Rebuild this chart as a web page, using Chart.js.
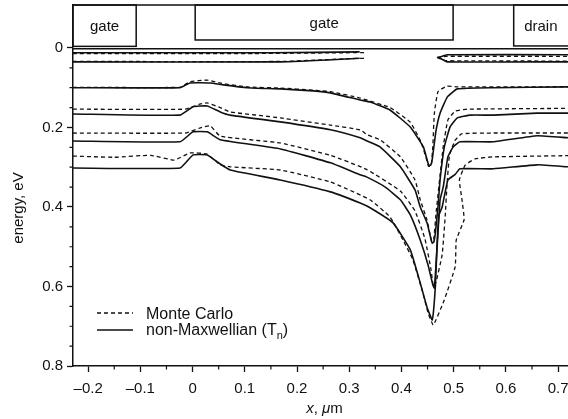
<!DOCTYPE html>
<html>
<head>
<meta charset="utf-8">
<title>energy vs x</title>
<script src="https://cdn.jsdelivr.net/npm/chart.js@4.4.1/dist/chart.umd.min.js"></script>
<style>
  html, body { margin: 0; padding: 0; background: #fff; }
  canvas { display: block; }
</style>
</head>
<body>
<canvas id="energyChart" width="568" height="419"></canvas>
<script>
// axis ranges (x in um, energy in eV, energy grows downwards)
const X_MIN = -0.229, X_MAX = 0.719;
const Y_MIN = -0.108, Y_MAX = 0.8;

// device regions drawn above the surface: [from, to] in um, names
const regionNames = ['gate', 'gate', 'drain'];
const regionSpans = [[-0.229, -0.108], [0.005, 0.499], [0.615, 0.76]];
const regionBottoms = [-0.004, -0.020, -0.005];

// contours, [x, energy]; null energy = gap
const nmTopA = [[-0.229, 0.012], [0.15, 0.012], [0.32, 0.010], [0.40, null], [0.471, 0.024], [0.488, 0.017], [0.719, 0.017]];
const mcTopA = [[-0.229, 0.014], [0.12, 0.014], [0.30, 0.012], [0.33, 0.012], [0.40, null], [0.468, 0.024], [0.485, 0.021], [0.719, 0.021]];
const nmTopB = [[-0.229, 0.035], [0.17, 0.035], [0.32, 0.026], [0.40, null], [0.471, 0.024], [0.488, 0.035], [0.719, 0.035]];
const mcTopB = [[-0.229, 0.034], [0.17, 0.034], [0.30, 0.027], [0.33, 0.026], [0.40, null], [0.468, 0.024], [0.485, 0.032], [0.719, 0.033]];

const nm1 = [[-0.229, 0.100], [-0.024, 0.100], [-0.005, 0.088], [0.034, 0.088], [0.059, 0.093], [0.105, 0.100], [0.168, 0.103],
  [0.231, 0.108], [0.264, 0.113], [0.321, 0.131], [0.340, 0.136], [0.378, 0.156], [0.417, 0.199], [0.442, 0.249],
  [0.452, 0.294], [0.456, 0.295], [0.459, 0.280], [0.466, 0.210], [0.474, 0.164], [0.488, 0.123], [0.507, 0.103],
  [0.576, 0.100], [0.719, 0.098]];
const mc1 = [[-0.229, 0.099], [-0.024, 0.099], [-0.005, 0.085], [0.028, 0.081], [0.059, 0.090], [0.105, 0.098], [0.168, 0.101],
  [0.231, 0.106], [0.264, 0.110], [0.321, 0.126], [0.378, 0.150], [0.417, 0.187], [0.437, 0.235], [0.447, 0.275],
  [0.452, 0.298], [0.457, 0.296], [0.460, 0.250], [0.463, 0.165], [0.470, 0.110], [0.487, 0.096], [0.507, 0.098],
  [0.719, 0.098]];

const nm2 = [[-0.229, 0.166], [-0.024, 0.169], [0.001, 0.148], [0.028, 0.146], [0.053, 0.161], [0.072, 0.169], [0.168, 0.186],
  [0.264, 0.206], [0.321, 0.226], [0.334, 0.234], [0.359, 0.249], [0.398, 0.299], [0.426, 0.357], [0.436, 0.400],
  [0.449, 0.440], [0.457, 0.483], [0.459, 0.491], [0.462, 0.488], [0.465, 0.465], [0.470, 0.400], [0.474, 0.332],
  [0.482, 0.250], [0.493, 0.199], [0.507, 0.176], [0.532, 0.169], [0.576, 0.169], [0.660, 0.164], [0.719, 0.164]];
const mc2 = [[-0.229, 0.154], [-0.014, 0.154], [0.015, 0.141], [0.028, 0.138], [0.053, 0.150], [0.072, 0.161], [0.168, 0.176],
  [0.264, 0.194], [0.321, 0.206], [0.334, 0.218], [0.359, 0.231], [0.398, 0.274], [0.426, 0.332], [0.436, 0.382],
  [0.449, 0.433], [0.455, 0.470], [0.458, 0.487], [0.462, 0.480], [0.466, 0.420], [0.474, 0.320], [0.480, 0.249],
  [0.489, 0.181], [0.503, 0.159], [0.526, 0.154], [0.719, 0.152]];

const nm3 = [[-0.229, 0.234], [-0.024, 0.236], [0.001, 0.211], [0.028, 0.211], [0.053, 0.231], [0.168, 0.254], [0.264, 0.289],
  [0.321, 0.319], [0.334, 0.325], [0.369, 0.350], [0.398, 0.382], [0.417, 0.420], [0.436, 0.483], [0.451, 0.546],
  [0.460, 0.595], [0.463, 0.604], [0.466, 0.550], [0.470, 0.465], [0.474, 0.382], [0.480, 0.350], [0.489, 0.274],
  [0.499, 0.249], [0.512, 0.236], [0.576, 0.236], [0.660, 0.221], [0.719, 0.226]];
const mc3 = [[-0.229, 0.214], [-0.014, 0.214], [0.015, 0.201], [0.034, 0.196], [0.053, 0.222], [0.168, 0.239], [0.264, 0.270],
  [0.334, 0.306], [0.398, 0.360], [0.426, 0.410], [0.445, 0.480], [0.457, 0.560], [0.461, 0.600], [0.466, 0.590],
  [0.478, 0.520], [0.484, 0.420], [0.487, 0.350], [0.492, 0.270], [0.503, 0.232], [0.515, 0.216], [0.576, 0.214],
  [0.719, 0.214]];

const nm4 = [[-0.229, 0.302], [-0.024, 0.302], [0.001, 0.269], [0.028, 0.269], [0.053, 0.292], [0.072, 0.307], [0.168, 0.332],
  [0.264, 0.362], [0.321, 0.390], [0.340, 0.402], [0.384, 0.440], [0.417, 0.508], [0.436, 0.591], [0.449, 0.652],
  [0.459, 0.684], [0.465, 0.600], [0.468, 0.500], [0.472, 0.420], [0.478, 0.400], [0.489, 0.332], [0.503, 0.318],
  [0.512, 0.304], [0.576, 0.304], [0.660, 0.294], [0.719, 0.299]];
const mc4 = [[-0.229, 0.272], [-0.150, 0.275], [-0.080, 0.270], [-0.035, 0.282], [-0.005, 0.264], [0.028, 0.267], [0.053, 0.294],
  [0.072, 0.299], [0.168, 0.307], [0.264, 0.337], [0.340, 0.382], [0.378, 0.425], [0.403, 0.483], [0.422, 0.533],
  [0.441, 0.616], [0.451, 0.666], [0.461, 0.697], [0.482, 0.634], [0.503, 0.550], [0.505, 0.483], [0.520, 0.432],
  [0.516, 0.382], [0.511, 0.332], [0.522, 0.295], [0.541, 0.279], [0.576, 0.274], [0.719, 0.271]];

const monteCarlo = [mcTopA, mcTopB, mc1, mc2, mc3, mc4];
const nonMaxwellian = [nmTopA, nmTopB, nm1, nm2, nm3, nm4];

const INK = '#111';
const FONT = '"Liberation Sans", Arial, Helvetica, sans-serif';
Chart.defaults.font.family = FONT;
Chart.defaults.font.size = 15;
Chart.defaults.color = INK;

function toPoints(arr) {
  return arr.map(p => ({ x: p[0], y: p[1] }));
}

const datasets = [];
monteCarlo.forEach(c => datasets.push({
  data: toPoints(c), borderColor: INK, borderWidth: 1.3, borderDash: [4, 3]
}));
nonMaxwellian.forEach(c => datasets.push({
  data: toPoints(c), borderColor: INK, borderWidth: 1.6
}));

function fmtTick(v) {
  if (Math.abs(v) < 1e-9) return '0';
  return (v < 0 ? '\u2013' : '') + Math.abs(v).toFixed(1);
}

// device outline, minor ticks, axis titles and legend
const sketch = {
  id: 'sketch',
  afterDraw(chart) {
    const { ctx, chartArea: a, scales: { x, y } } = chart;
    ctx.save();
    ctx.strokeStyle = INK;
    ctx.fillStyle = INK;
    ctx.lineWidth = 1.5;

    // top edge and surface line
    ctx.beginPath();
    ctx.moveTo(a.left, a.top); ctx.lineTo(a.right, a.top);
    const ySurf = y.getPixelForValue(0.002);
    ctx.moveTo(a.left, ySurf); ctx.lineTo(a.right, ySurf);
    ctx.stroke();

    // gate / drain boxes
    ctx.font = '15px ' + FONT;
    ctx.textAlign = 'center';
    ctx.textBaseline = 'middle';
    regionSpans.forEach((r, i) => {
      const l = x.getPixelForValue(r[0]);
      const rr = x.getPixelForValue(r[1]);
      const b = y.getPixelForValue(regionBottoms[i]);
      ctx.strokeRect(l, a.top, rr - l, b - a.top);
      const cx = (l + Math.min(rr, chart.width)) / 2;
      ctx.fillText(regionNames[i], cx, (a.top + b) / 2 + 1);
    });

    // minor ticks every 0.05
    ctx.lineWidth = 1.2;
    ctx.beginPath();
    for (let i = -4; i <= 14; i++) {
      if (i % 2 === 0) continue;
      const px = x.getPixelForValue(i * 0.05);
      ctx.moveTo(px, a.bottom); ctx.lineTo(px, a.bottom + 3.5);
    }
    for (let i = 1; i < 16; i++) {
      if (i % 4 === 0) continue;
      const py = y.getPixelForValue(i * 0.05);
      ctx.moveTo(a.left, py); ctx.lineTo(a.left - 3.5, py);
    }
    ctx.stroke();

    // y title
    ctx.save();
    ctx.translate(19, 208);
    ctx.rotate(-Math.PI / 2);
    ctx.font = '15px ' + FONT;
    ctx.fillText('energy, eV', 0, 0);
    ctx.restore();

    // x title with italic x and mu
    const parts = [['x', 'italic '], [', ', ''], ['\u03bc', 'italic '], ['m', '']];
    let total = 0;
    parts.forEach(p => { ctx.font = p[1] + '15px ' + FONT; total += ctx.measureText(p[0]).width; });
    let tx = (a.left + a.right) / 2 + 4 - total / 2;
    ctx.textAlign = 'left';
    parts.forEach(p => {
      ctx.font = p[1] + '15px ' + FONT;
      ctx.fillText(p[0], tx, 409);
      tx += ctx.measureText(p[0]).width;
    });

    // legend
    const lx = a.left + 24;
    ctx.lineWidth = 1.3;
    ctx.setLineDash([4, 3]);
    ctx.beginPath(); ctx.moveTo(lx, 313); ctx.lineTo(lx + 36, 313); ctx.stroke();
    ctx.setLineDash([]);
    ctx.lineWidth = 1.6;
    ctx.beginPath(); ctx.moveTo(lx, 330); ctx.lineTo(lx + 36, 330); ctx.stroke();
    ctx.font = '16px ' + FONT;
    ctx.textBaseline = 'alphabetic';
    const tx0 = a.left + 73;
    ctx.fillText('Monte Carlo', tx0, 319);
    const s1 = 'non-Maxwellian (T';
    ctx.fillText(s1, tx0, 335);
    let sx = tx0 + ctx.measureText(s1).width;
    ctx.font = '11px ' + FONT;
    ctx.fillText('n', sx, 339);
    sx += ctx.measureText('n').width;
    ctx.font = '16px ' + FONT;
    ctx.fillText(')', sx, 335);
    ctx.restore();
  }
};

new Chart(document.getElementById('energyChart'), {
  type: 'line',
  data: { datasets: datasets },
  options: {
    responsive: false,
    animation: false,
    events: [],
    layout: { padding: { top: 5, right: 0, bottom: 0, left: 0 } },
    elements: { point: { radius: 0 }, line: { tension: 0.12, fill: false } },
    plugins: { legend: { display: false }, tooltip: { enabled: false } },
    scales: {
      x: {
        type: 'linear',
        min: X_MIN,
        max: X_MAX,
        border: { display: true, color: INK, width: 1.5 },
        grid: { drawOnChartArea: false, drawTicks: true, tickLength: 6, color: INK, tickWidth: 1.3 },
        ticks: {
          stepSize: 0.1, autoSkip: false, includeBounds: false, maxRotation: 0,
          padding: 8, color: INK, font: { size: 15 }, callback: v => fmtTick(v)
        },
        afterFit: s => { s.height = 53; s.paddingLeft = 0; s.paddingRight = 0; }
      },
      y: {
        type: 'linear',
        reverse: true,
        min: Y_MIN,
        max: Y_MAX,
        border: { display: true, color: INK, width: 1.5 },
        grid: { drawOnChartArea: false, drawTicks: true, tickLength: 6, color: INK, tickWidth: 1.3 },
        ticks: {
          stepSize: 0.2, autoSkip: false, includeBounds: false,
          padding: 4, color: INK, font: { size: 15 }, callback: v => fmtTick(v)
        },
        afterFit: s => { s.width = 73; s.paddingTop = 0; s.paddingBottom = 0; }
      }
    }
  },
  plugins: [sketch]
});
</script>
</body>
</html>
